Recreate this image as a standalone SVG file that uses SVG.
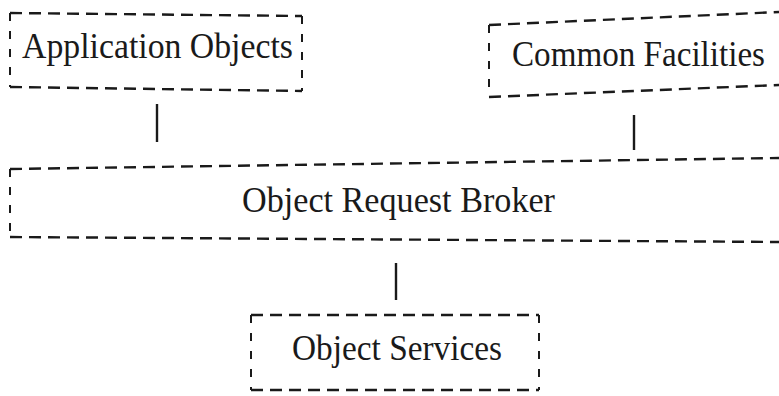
<svg xmlns="http://www.w3.org/2000/svg" width="779" height="396" viewBox="0 0 779 396">
<style>
.bg{fill:#ffffff}
.box{fill:none;stroke:#1a1a1a;stroke-width:2.4;stroke-dasharray:12 7}
.side{fill:none;stroke:#1a1a1a;stroke-width:2;stroke-dasharray:8 10}
.conn{fill:none;stroke:#1a1a1a;stroke-width:2.4}
.lbl{font-family:"Liberation Serif","DejaVu Serif",serif;font-size:35px;fill:#1a1a1a}
</style>
<rect class="bg" x="0" y="0" width="779" height="396"/>
<g id="application-objects">
<path class="box" d="M10,13 L302,16 M10,87 L302,91"/>
<path class="side" d="M10,13 L10,87 M302,16 L302,91"/>
<text class="lbl" x="22" y="58" textLength="271" lengthAdjust="spacingAndGlyphs">Application Objects</text>
</g>
<g id="common-facilities">
<path class="box" d="M489,25 L779,12 M489,97 L779,85"/>
<path class="side" d="M489,25 L489,97"/>
<text class="lbl" x="512" y="66" textLength="253" lengthAdjust="spacingAndGlyphs">Common Facilities</text>
</g>
<g id="object-request-broker">
<path class="box" d="M10,169 L779,158 M10,237 L779,242"/>
<path class="side" d="M10,169 L10,237"/>
<text class="lbl" x="242" y="212" textLength="313" lengthAdjust="spacingAndGlyphs">Object Request Broker</text>
</g>
<g id="object-services">
<path class="box" d="M251,315 L539,315 M251,390 L539,390"/>
<path class="side" d="M251,315 L251,390 M539,315 L539,390"/>
<text class="lbl" x="292" y="360" textLength="210" lengthAdjust="spacingAndGlyphs">Object Services</text>
</g>
<g id="connectors">
<line class="conn" x1="157" y1="104" x2="157" y2="142"/>
<line class="conn" x1="634" y1="115" x2="634" y2="150"/>
<line class="conn" x1="396" y1="263" x2="396" y2="300"/>
</g>
</svg>
